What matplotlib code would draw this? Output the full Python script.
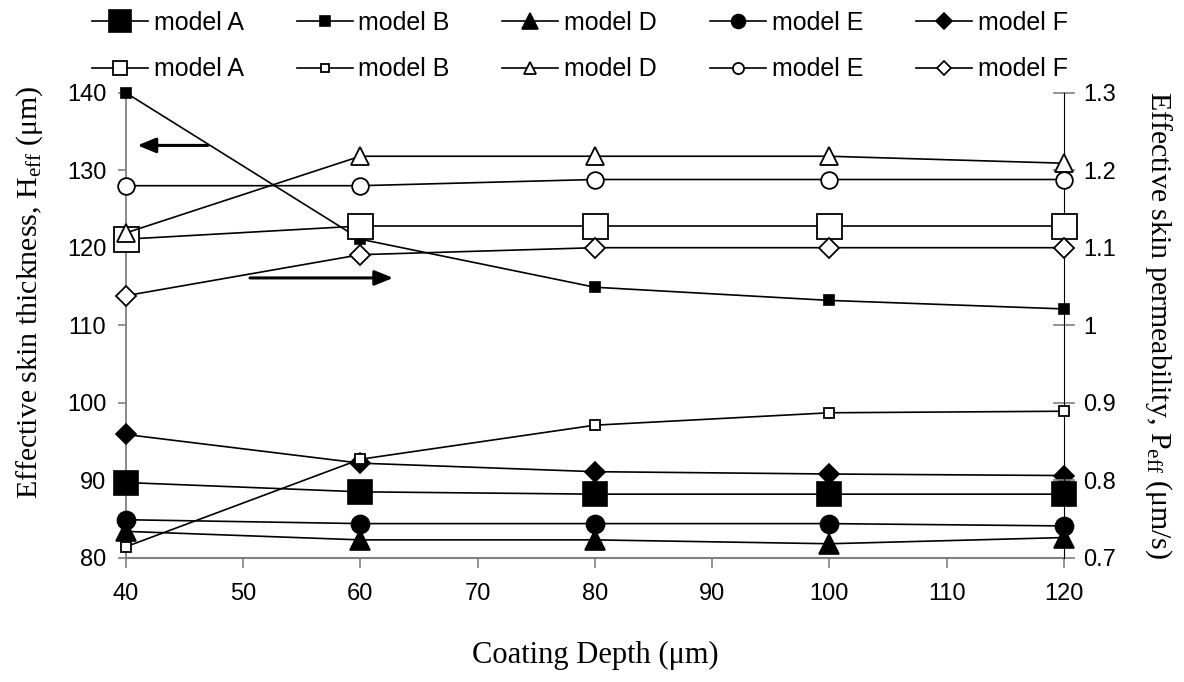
import matplotlib
matplotlib.use("Agg")
import matplotlib.pyplot as plt

# =========================
# DATA
# =========================

depth = [40, 60, 80, 100, 120]

# effective skin thickness (um), left axis, filled markers
thick_A = [89.7, 88.5, 88.2, 88.2, 88.2]
thick_B = [140.0, 121.1, 114.9, 113.2, 112.1]
thick_D = [83.4, 82.3, 82.3, 81.8, 82.6]
thick_E = [84.9, 84.4, 84.4, 84.4, 84.1]
thick_F = [95.9, 92.2, 91.1, 90.8, 90.6]

# effective skin permeability (um/s), right axis, open markers
perm_A = [1.111, 1.128, 1.128, 1.128, 1.128]
perm_B = [0.714, 0.827, 0.871, 0.887, 0.889]
perm_D = [1.119, 1.218, 1.218, 1.218, 1.209]
perm_E = [1.180, 1.180, 1.188, 1.188, 1.188]
perm_F = [1.038, 1.091, 1.100, 1.100, 1.100]

labels = ["model A", "model B", "model D", "model E", "model F"]
left_ticks = [80, 90, 100, 110, 120, 130, 140]
right_ticks = [0.7, 0.8, 0.9, 1.0, 1.1, 1.2, 1.3]
right_ticklabels = ["0.7", "0.8", "0.9", "1", "1.1", "1.2", "1.3"]

# =========================
# STYLE
# =========================

plt.rcParams["font.family"] = ["Liberation Sans", "DejaVu Sans"]
plt.rcParams["mathtext.fontset"] = "custom"
plt.rcParams["mathtext.rm"] = "Liberation Serif"
plt.rcParams["mathtext.it"] = "Liberation Serif:italic"

markers = ["s", "s", "^", "o", "D"]
sizes_filled = [17, 6.5, 15, 13, 10]
sizes_open = [18, 6.5, 13.5, 12, 10]
leg_filled = [16, 7, 12, 10, 8]
leg_open = [10, 6, 9, 8, 7]
gray = "#808080"
fs_tick = 17

W, H = 1184, 682
fig = plt.figure(figsize=(W / 100, H / 100), dpi=100)
ax = fig.add_axes([125.7 / W, 1 - 557.7 / H, 938.3 / W, 465 / H])
ax2 = ax.twinx()

thick = [thick_A, thick_B, thick_D, thick_E, thick_F]
perm = [perm_A, perm_B, perm_D, perm_E, perm_F]

h_filled, h_open = [], []
for i in range(5):
    (l1,) = ax.plot(depth, thick[i], color="black", lw=1.2, marker=markers[i],
                    ms=sizes_filled[i], mfc="black", mec="black", mew=1.2,
                    clip_on=False, zorder=3)
    (l2,) = ax2.plot(depth, perm[i], color="black", lw=1.2, marker=markers[i],
                     ms=sizes_open[i], mfc="white", mec="black", mew=1.3,
                     clip_on=False, zorder=3)
    h_filled.append(l1)
    h_open.append(l2)

ax.set_xlim(40, 120)
ax.set_ylim(80, 140)
ax2.set_ylim(0.7, 1.3)
ax.set_xticks(range(40, 121, 10))
ax.set_yticks(left_ticks)
ax2.set_yticks(right_ticks)
ax2.set_yticklabels(right_ticklabels)

for a in (ax, ax2):
    a.spines["top"].set_visible(False)
ax.spines["right"].set_visible(False)
ax.spines["left"].set_color(gray)
ax.spines["bottom"].set_color(gray)
ax2.spines["left"].set_visible(False)
ax2.spines["bottom"].set_visible(False)
ax2.spines["right"].set_color("black")
ax2.spines["right"].set_linewidth(0.8)
ax.spines["left"].set_linewidth(1.3)
ax.spines["bottom"].set_linewidth(1.5)

ax.tick_params(axis="y", direction="out", length=6, width=1.2, color=gray,
               labelsize=fs_tick, pad=8)
ax.tick_params(axis="x", direction="out", length=7, width=1.2, color=gray,
               labelsize=fs_tick, pad=11)
ax2.tick_params(axis="y", direction="inout", length=16, width=1.2, color=gray,
                labelsize=fs_tick, pad=6)

ax.set_xlabel("Coating Depth (μm)", family="Liberation Serif", fontsize=22)
ax.xaxis.set_label_coords(0.5, -0.179)
ax.set_ylabel(r"Effective skin thickness, H$_{\mathrm{eff}}$ (μm)",
              family="Liberation Serif", fontsize=21.5, va="center")
ax.yaxis.set_label_coords(-0.102, 0.57)
ax2.set_ylabel(r"Effective skin permeability, P$_{\mathrm{eff}}$ (μm/s)",
               family="Liberation Serif", fontsize=21.5, rotation=270,
               va="center")
ax2.yaxis.set_label_coords(1.101, 0.5)

# arrows pointing to the matching axis
arrow = dict(arrowstyle="-|>,head_length=1.1,head_width=0.45",
             color="black", lw=2.2, shrinkA=0, shrinkB=0)
ax.annotate("", xy=(41.0, 133.2), xytext=(47.0, 133.2), arrowprops=arrow)
ax.annotate("", xy=(62.8, 116.1), xytext=(50.6, 116.1), arrowprops=arrow)

handles, names = [], []
for i in range(5):
    handles += [h_filled[i], h_open[i]]
    names += [labels[i], labels[i]]
leg = fig.legend(handles, names, ncol=5, loc="upper left",
                 bbox_to_anchor=(92 / W, 1 - 11 / H), frameon=False,
                 fontsize=18, handlelength=2.24, handletextpad=0.24,
                 columnspacing=2.1, labelspacing=0.9, borderaxespad=0,
                 borderpad=0)
for i, lh in enumerate(leg.legend_handles):
    lh.set_markersize(leg_filled[i // 2] if i % 2 == 0 else leg_open[i // 2])

fig.savefig("out.png", dpi=100)
